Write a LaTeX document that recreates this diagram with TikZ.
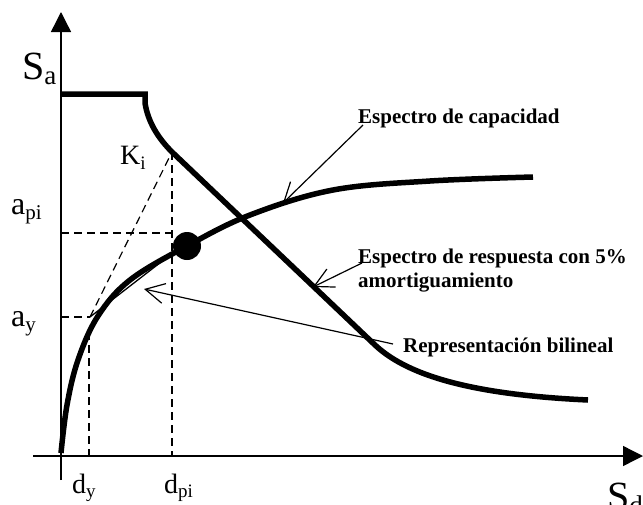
\documentclass[tikz,border=0pt]{standalone}
\usepackage{fontspec}
\setmainfont{Liberation Serif}
\usetikzlibrary{arrows.meta}
\newcommand\fsz[1]{\fontsize{#1}{#1}\selectfont}
\newcommand\symlab[5]{{\fsz{#3}#1}\raisebox{-#5pt}{\fsz{#4}#2}}
\begin{document}
\begin{tikzpicture}[x=1pt,y=-1pt,
  axisline/.style={line width=1.4pt,-{Triangle[length=20pt,width=20pt]}},
  thickcurve/.style={line width=5.5pt,line join=miter},
  dashline/.style={line width=1.2pt,dash pattern=on 8pt off 5pt},
  thinline/.style={line width=1.3pt},
  callout/.style={line width=1.2pt,-{Straight Barb[length=19pt,width=20pt]}},
  boldlab/.style={font=\fsz{21}\bfseries,inner sep=0pt,anchor=base west},
  axlab/.style={inner sep=0pt,anchor=base west}]
\useasboundingbox (0,0) rectangle (643,504);
% axes
\coordinate (ybot) at (61,480);
\coordinate (ytop) at (61,12);
\coordinate (xleft) at (33,456);
\coordinate (xright) at (643,456);
\draw[axisline] (ybot) -- (ytop);
\draw[axisline] (xleft) -- (xright);
% key points
\coordinate (yield) at (90,317);
\coordinate (ki) at (172,152);
\coordinate (perf) at (187,246);
\coordinate (apiax) at (61,233);
\coordinate (apiend) at (172,233);
\coordinate (ayax) at (61,317);
\coordinate (dytop) at (89,332);
\coordinate (dybot) at (89,456);
\coordinate (dpibot) at (172,456);
% dashed construction lines
\draw[dashline] (apiax) -- (apiend);
\draw[dashline] (ki) -- (dpibot);
\draw[dashline] (ayax) -- (yield);
\draw[dashline] (yield) -- (ki);
\draw[dashline] (dytop) -- (dybot);
% bilinear second branch
\draw[thinline] (yield) -- (183,245);
% response spectrum
\draw[thickcurve] (61,94) -- (145,94) -- (145,103)
  .. controls (148,122) and (158,138) .. (ki) -- (375,345)
  .. controls (410,378) and (480,395) .. (588,400);
% capacity spectrum
\draw[thickcurve] plot[smooth,tension=0.6] coordinates {(61,453) (67,405) (78,360) (98,316) (130,280) (187,246) (250,215) (333,190) (430,181) (533,177)};
% performance point
\fill (perf) circle (14);
% axis labels
\node[axlab] (sa) at (22,79) {\symlab{S}{a}{40}{27}{5}};
\node[axlab] (sd) at (607,509) {\symlab{S}{d}{40}{27}{5}};
\node[axlab] (kil) at (120,164) {\symlab{K}{i}{28}{19}{5}};
\node[axlab] (apil) at (11,214) {\symlab{a}{pi}{32}{21}{5}};
\node[axlab] (ayl) at (11,326) {\symlab{a}{y}{32}{21}{5}};
\node[axlab] (dyl) at (72,493) {\symlab{d}{y}{28}{19}{4}};
\node[axlab] (dpil) at (164,493) {\symlab{d}{pi}{28}{19}{4}};
% callout labels
\node[boldlab] (cap) at (358,123) {Espectro de capacidad};
\node[boldlab] (resp1) at (358,263) {Espectro de respuesta con 5\%};
\node[boldlab] (resp2) at (358,287) {amortiguamiento};
\node[boldlab] (bil) at (403,352) {Representación bilineal};
\coordinate (capfrom) at (363,125);
\coordinate (capto) at (283,203);
\coordinate (respfrom) at (362,263);
\coordinate (respto) at (313,287);
\coordinate (bilfrom) at (393,344);
\coordinate (bilto) at (144,289);
\draw[callout] (capfrom) -- (capto);
\draw[callout] (respfrom) -- (respto);
\draw[callout] (bilfrom) -- (bilto);
\end{tikzpicture}
\end{document}
